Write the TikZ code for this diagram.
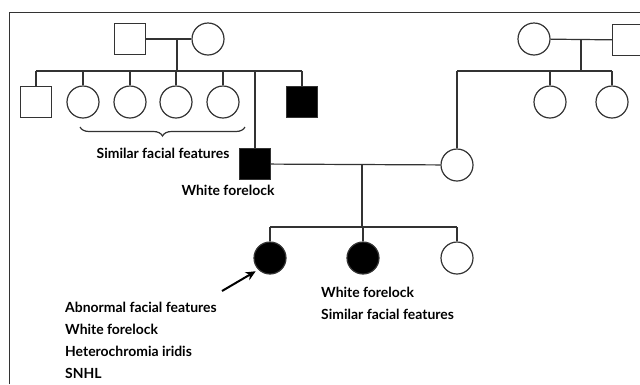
\documentclass[tikz,border=0pt]{standalone}
\usepackage{fontspec}
\setsansfont{Lato}
\usetikzlibrary{arrows.meta, positioning, decorations.pathreplacing}
\definecolor{pedgray}{HTML}{333333}

\begin{document}
\begin{tikzpicture}[x=1bp, y=-1bp,
    male/.style={rectangle, draw=pedgray, line width=1.2bp, minimum size=31bp, inner sep=0pt},
    female/.style={circle, draw=pedgray, line width=1.2bp, minimum size=32bp, inner sep=0pt},
    affected/.style={fill=black},
    pline/.style={draw=pedgray, line width=1.2bp},
    lbl/.style={font=\sffamily\bfseries\fontsize{14}{16}\selectfont, inner sep=0pt, text=black}]
    \useasboundingbox (0,0) rectangle (640,384);
    \clip (0,0) rectangle (640,384);
    % Frame
    \draw[pedgray, line width=1bp] (9,384) -- (9,12) -- (640,12);
    % Paternal grandparents
    \node[male] (pgf) at (130,39) {};
    \node[female] (pgm) at (208,39) {};
    \coordinate (pm) at (177,39);
    \coordinate (psib) at (177,71);
    \draw[pline] (pgf) -- (pgm);
    \draw[pline] (pm) -- (psib);
    % Paternal sibship
    \node[male] (pu1) at (36,102) {};
    \node[female] (pa1) at (83,102) {};
    \node[female] (pa2) at (130,102) {};
    \node[female] (pa3) at (176,102) {};
    \node[female] (pa4) at (223,102) {};
    \node[male, affected] (pu2) at (302,102) {};
    \node[male, affected] (father) at (255,164) {};
    \draw[pline] (pu1 |- psib) -- (pu2 |- psib);
    \foreach \n in {pu1, pa1, pa2, pa3, pa4, pu2, father}
        \draw[pline] (\n) -- (\n |- psib);
    % Brace under the aunts
    \draw[pline, decorate, decoration={brace, mirror, amplitude=9bp}] (80,127) -- (245,127);
    \node[lbl] (simlbl) at (163,153) {Similar facial features};
    \node[lbl] (wflbl) at (228,190) {White forelock};
    % Maternal grandparents
    \node[female] (mgm) at (534,39) {};
    \node[male] (mgf) at (628,40) {};
    \coordinate (mm) at (581,39);
    \coordinate (msib) at (581,71);
    \draw[pline] (mgm) -- (mgf);
    \draw[pline] (mm) -- (msib);
    % Maternal sibship
    \node[female] (ma1) at (550,102) {};
    \node[female] (ma2) at (612,102) {};
    \node[female] (mother) at (457,165) {};
    \draw[pline] (mother |- msib) -- (ma2 |- msib);
    \foreach \n in {ma1, ma2, mother}
        \draw[pline] (\n) -- (\n |- msib);
    % Parents and children
    \coordinate (cm) at (362,164);
    \coordinate (csib) at (362,227);
    \draw[pline] (father) -- (mother);
    \draw[pline] (cm) -- (csib);
    \node[female, affected] (proband) at (270,258) {};
    \node[female, affected] (sister) at (363,258) {};
    \node[female] (sister2) at (457,258) {};
    \draw[pline] (proband |- csib) -- (sister2 |- csib);
    \foreach \n in {proband, sister, sister2}
        \draw[pline] (\n) -- (\n |- csib);
    % Proband arrow
    \coordinate (pointer) at (222,291);
    \draw[-{Stealth[length=10bp, width=9bp]}, black, line width=2bp, shorten >=3bp] (pointer) -- (proband.south west);
    % Labels
    \node[lbl, anchor=west] (pl1) at (65,307) {Abnormal facial features};
    \node[lbl, anchor=west] (pl2) at (65,329) {White forelock};
    \node[lbl, anchor=west] (pl3) at (65,351) {Heterochromia iridis};
    \node[lbl, anchor=west] (pl4) at (65,373) {SNHL};
    \node[lbl, anchor=west] (sl1) at (321,292) {White forelock};
    \node[lbl, anchor=west] (sl2) at (321,314) {Similar facial features};
\end{tikzpicture}
\end{document}
